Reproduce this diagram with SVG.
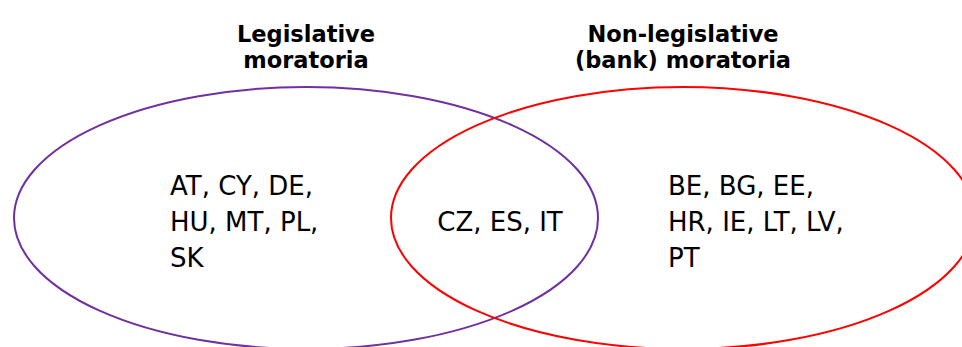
<svg xmlns="http://www.w3.org/2000/svg" width="962" height="347" viewBox="0 0 962 347">
<style>
.title{font-family:"DejaVu Sans","Liberation Sans",sans-serif;font-weight:bold;font-size:22.5px;fill:#000;text-anchor:middle}
.body{font-family:"DejaVu Sans","Liberation Sans",sans-serif;font-size:26px;fill:#000}
.set{fill:none;stroke-width:2}
</style>
<rect width="962" height="347" fill="#fff"/>
<g id="legislative">
<ellipse class="set" cx="306" cy="218" rx="292" ry="131" stroke="#7030A0"/>
<text class="title" x="306" y="42">Legislative</text>
<text class="title" x="306" y="68">moratoria</text>
<text class="body" x="170" y="195">AT, CY, DE,</text>
<text class="body" x="170" y="231">HU, MT, PL,</text>
<text class="body" x="170" y="267">SK</text>
</g>
<g id="non-legislative">
<ellipse class="set" cx="683" cy="218" rx="292" ry="131" stroke="#FF0000"/>
<text class="title" x="683" y="42">Non-legislative</text>
<text class="title" x="683" y="68">(bank) moratoria</text>
<text class="body" x="668" y="195">BE, BG, EE,</text>
<text class="body" x="668" y="231">HR, IE, LT, LV,</text>
<text class="body" x="668" y="267">PT</text>
</g>
<g id="both">
<text class="body" x="500" y="231" text-anchor="middle">CZ, ES, IT</text>
</g>
</svg>
